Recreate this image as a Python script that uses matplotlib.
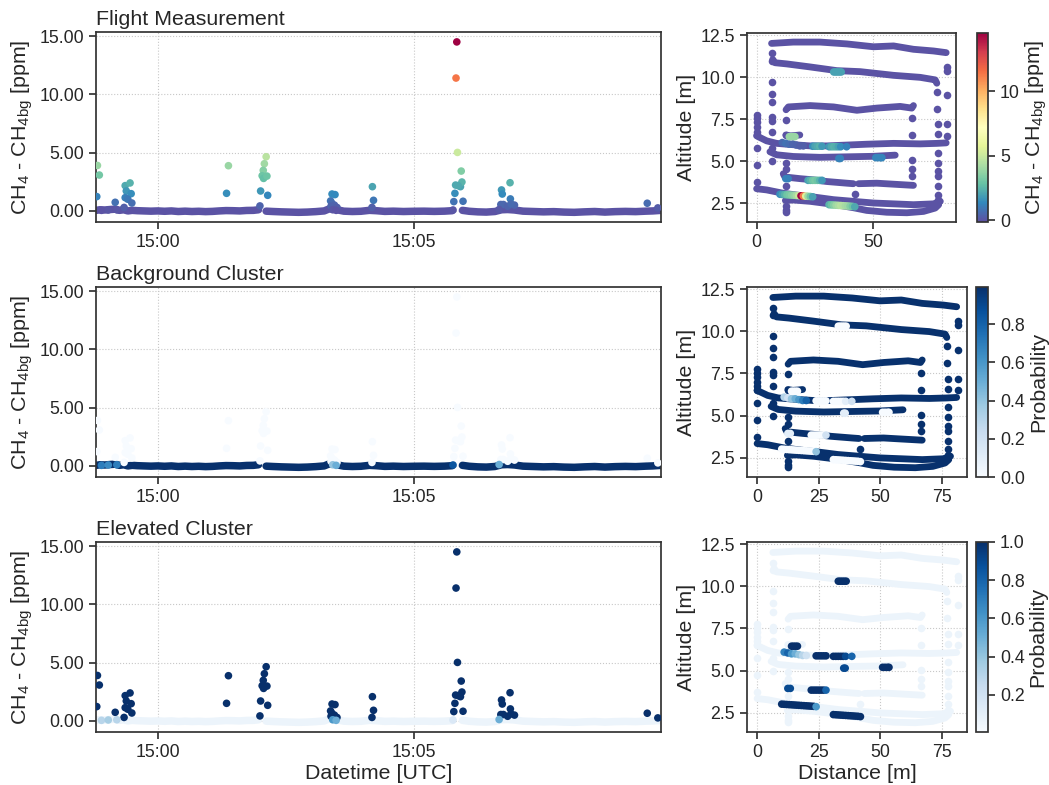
import numpy as np
import matplotlib
matplotlib.use("Agg")
import matplotlib.pyplot as plt
import matplotlib.dates as mdates
from matplotlib.colors import Normalize
from matplotlib.cm import ScalarMappable
from matplotlib.ticker import FormatStrFormatter, FixedLocator
import datetime as dt

plt.rcParams['font.family'] = ['Liberation Sans', 'DejaVu Sans']
plt.rcParams['mathtext.fontset'] = 'custom'
plt.rcParams['mathtext.rm'] = 'Liberation Sans'
plt.rcParams['mathtext.it'] = 'Liberation Sans:italic'
plt.rcParams['mathtext.default'] = 'regular'
TXT = '#262626'
SP = '#333333'
plt.rcParams['text.color'] = TXT
plt.rcParams['axes.labelcolor'] = TXT
plt.rcParams['xtick.color'] = SP
plt.rcParams['ytick.color'] = SP
plt.rcParams['xtick.labelcolor'] = TXT
plt.rcParams['ytick.labelcolor'] = TXT

# ---------------- time-series data (seconds after 15:00:00 UTC) ----------------
base_t = [-72, -68, -62, -56, -50, -45, -40, -35, -30, -24,
          -16, -8, 0, 8, 16, 24, 32, 40, 48, 56,
          64, 72, 80, 88, 96, 104, 112, 118, np.nan, 127,
          135, 145, 155, 165, 175, 185, 195, 200, 205, 210,
          218, 228, 238, 248, 256, 266, 276, 288, 300, 312,
          324, 336, 345, np.nan, 357, 365, 375, 385, 395, 403,
          410, 418, 428, 440, 452, 464, 476, 488, 500, 512,
          524, 536, 548, 560, 572, 580, 590]
base_ch4 = [0.05, 0.10, 0.08, 0.12, 0.15, 0.05, 0.10, 0.00, 0.05, 0.02,
            0.00, -0.02, 0.00, -0.03, 0.00, -0.05, -0.02, -0.05, -0.03, -0.06,
            -0.04, 0.00, 0.03, 0.02, 0.00, 0.04, 0.05, 0.10, np.nan, -0.02,
            -0.05, -0.08, -0.10, -0.12, -0.10, -0.06, 0.00, 0.15, 0.20, 0.10,
            -0.02, -0.05, -0.03, 0.05, 0.02, -0.04, -0.02, -0.05, -0.03, -0.02,
            -0.04, -0.02, 0.02, np.nan, 0.05, -0.03, -0.08, -0.10, -0.05, 0.10,
            0.12, 0.08, -0.02, -0.05, -0.08, -0.06, -0.10, -0.12, -0.08, -0.05,
            -0.10, -0.06, -0.04, -0.06, -0.02, 0.00, 0.05]
base_p_bg = 0.99   # background-cluster probability of baseline samples
base_p_el = 0.06   # elevated-cluster probability of baseline samples

spike_t = [-70.7, -68.5, -71.5, -49.9,
           -38.2, -32.5, -36.9, -31.2, -38.2, -35.1, -30.4, -39.5,
           82.8, 80.6,
           127.0, 124.9, 123.6, 122.3, 124.0, 127.9, 120.5, 128.8, 119.7,
           204.2, 207.7, 202.5, 204.0, 207.0, 203.0, 210.0,
           251.5, 252.8, 251.0,
           350.4, 349.5, 351.2, 355.6, 349.0, 354.7, 356.4, 352.0, 348.2, 346.9, 357.7,
           412.8, 402.8, 403.7, 413.2, 402.0, 405.0, 418.0, 410.0, 414.0,
           573.6, 586.0,
           -66, -58, -48, 205, 209, 400, 346]
spike_ch4 = [3.9, 3.08, 1.23, 0.74,
             2.17, 2.4, 1.71, 1.48, 1.14, 1.0, 0.68, 0.3,
             3.88, 1.51,
             4.65, 4.05, 3.48, 3.02, 2.79, 2.99, 1.71, 1.34, 0.43,
             1.45, 1.4, 0.86, 0.66, 0.5, 0.4, 0.3,
             2.08, 0.91, 0.3,
             14.5, 11.4, 5.02, 3.42, 2.22, 2.08, 2.48, 2.17, 1.51, 0.8, 0.83,
             2.42, 1.8, 1.45, 1.03, 0.55, 0.55, 0.5, 0.4, 0.6,
             0.66, 0.26,
             0.05, 0.08, 0.1, 0.1, 0.05, 0.12, 0.08]
spike_p_el = [1.0] * 55 + [0.3, 0.35, 0.3, 0.6, 0.5, 0.5, 0.15]

# ---------------- flight-path data (distance [m], altitude [m]) ----------------
trkA_d = [6.4, 15.7, 27.1, 38.6, 50.0, 58.6, 67.1, 75.7, 81.1]
trkA_a = [12.0, 12.08, 12.08, 11.97, 11.8, 11.85, 11.65, 11.55, 11.45]
trkB_d = [6.9, 7.9, 12.9, 22.9, 34.3, 44.3, 58.6, 70.0, 76.4, 77.1]
trkB_a = [11.05, 10.85, 10.78, 10.6, 10.38, 10.32, 10.1, 9.98, 9.83, 9.63]
trkC_d = [12.6, 13.6, 22.9, 32.9, 42.9, 51.4, 61.4, 66.4, 67.1]
trkC_a = [8.05, 8.22, 8.3, 8.22, 8.02, 8.15, 8.25, 8.15, 8.3]
trkD_d = [0.0, 1.4, 4.3, 8.6, 15.7, 22.9, 30.0, 38.6, 47.1, 58.6, 70.0, 77.1, 81.1]
trkD_a = [6.5, 6.4, 6.2, 6.05, 5.97, 5.9, 5.9, 5.95, 6.0, 6.05, 6.02, 6.05, 6.08]
trkE_d = [5.7, 8.6, 15.7, 27.1, 38.6, 50.0, 59.3]
trkE_a = [5.55, 5.37, 5.27, 5.22, 5.25, 5.28, 5.35]
trkF_d = [11.4, 12.1, 18.6, 24.3, 30.0, 38.6, 41.4, np.nan, 43.6, 51.4, 58.6, 67.1]
trkF_a = [4.24, 4.05, 3.95, 3.88, 3.78, 3.68, 3.65, np.nan, 3.65, 3.68, 3.62, 3.55]
trkG_d = [0.0, 4.3, 11.4, 18.6, 24.3, 32.9, 41.4, 50.0, 58.6, 67.1, 75.7, 78.6]
trkG_a = [3.35, 3.28, 3.08, 2.95, 2.86, 2.7, 2.6, 2.5, 2.45, 2.4, 2.45, 2.6]
trkH_d = [12.3, 15.7, 22.9, 32.9, 41.4, 47.1, 55.7, 64.3, 71.4, 76.4, 77.9]
trkH_a = [2.65, 2.68, 2.6, 2.42, 2.22, 2.06, 1.95, 1.92, 2.0, 2.2, 2.4]
trkS_d = [12.5, 14.5, 16.5, 18.5]
trkS_a = [6.55, 6.5, 6.52, 6.55]

conn_d = [0, 0, 0, 0, 0, 0, 0, 0, 0,
          6.4, 6.4, 6.5, 6.5, 6.5, 6.5, 6.5, 6.5, 6.6, 6.6,
          12.4, 12.4, 12.4, 12.4, 12.4, 12.4, 12.4, 12.4,
          66.5, 66.5, 66.5, 66.5, 66.5,
          77.3, 77.3, 77.5, 77.5, 77.5, 77.5, 77.5, 77.5, 77.5, 77.5, 77.5,
          81.5, 81.5, 81.5, 81.5, 81.5,
          42.0]
conn_a = [7.75, 7.55, 7.3, 7.0, 6.75, 6.55, 5.75, 4.75, 3.75,
          11.4, 10.95, 9.7, 9.0, 8.5, 7.6, 7.4, 6.75, 5.75, 5.0,
          7.45, 6.55, 4.9, 4.5, 3.5, 2.3, 2.1, 1.95,
          7.55, 6.55, 5.05, 4.5, 4.1,
          9.1, 8.1, 7.2, 6.6, 5.5, 4.9, 4.4, 4.1, 3.5, 3.0, 2.7,
          10.6, 10.35, 8.9, 7.2, 6.5,
          3.05]

# samples of the elevated plume along the path
el_d = [10, 11, 12, 13, 14, 15, 16, 17, 18, 19, 20, 21, 22, 23, 24,
        31, 32, 33, 34, 35, 36, 37, 38, 39, 40, 41, 42,
        33.0, 33.8, 34.6, 35.4, 36.2,
        14.0, 14.8, 15.6, 16.4,
        11, 12.5, 14, 15.5, 17, 18.5, 20,
        24, 25, 26, 27, 28,
        31, 32, 33, 34, 35, 36, 38.5,
        35.2, 35.8,
        51, 52, 53, 53.6,
        12.5, 13.5,
        22, 23, 24, 25, 26, 27, 28]
el_a = [3.02, 3.01, 3.0, 2.99, 2.98, 2.97, 2.96, 2.95, 2.94, 2.93, 2.92, 2.91, 2.9, 2.89, 2.87,
        2.4, 2.39, 2.38, 2.37, 2.36, 2.35, 2.34, 2.33, 2.32, 2.31, 2.3, 2.28,
        10.3, 10.3, 10.3, 10.3, 10.3,
        6.45, 6.45, 6.45, 6.45,
        6.1, 6.05, 6.0, 6.0, 5.95, 5.9, 5.9,
        5.88, 5.88, 5.88, 5.88, 5.88,
        5.85, 5.85, 5.85, 5.85, 5.85, 5.85, 5.85,
        5.15, 5.15,
        5.2, 5.2, 5.2, 5.2,
        3.95, 3.95,
        3.85, 3.85, 3.85, 3.85, 3.85, 3.85, 3.85]
el_ch4 = [1.5, 2.0, 2.5, 3.0, 3.2, 3.5, 3.8, 4.2, 5.0, 14.5, 11.4, 5.5, 4.0, 3.0, 2.0,
          2.5, 3.0, 3.5, 4.0, 4.3, 4.6, 4.5, 4.2, 4.0, 3.5, 3.0, 2.2,
          2.0, 2.0, 2.0, 2.0, 2.0,
          3.9, 3.9, 3.9, 3.9,
          0.6, 0.8, 0.7, 0.5, 0.4, 0.3, 0.3,
          1.5, 2.0, 2.2, 2.4, 1.8,
          1.8, 2.2, 2.4, 2.3, 2.0, 1.5, 1.2,
          1.2, 1.2,
          1.3, 1.3, 1.3, 1.3,
          1.2, 1.2,
          2.0, 2.5, 3.0, 3.2, 3.0, 2.5, 1.8]
el_p_el = [1.0] * 14 + [0.6] + \
          [1.0] * 12 + \
          [1.0] * 5 + \
          [1.0] * 4 + \
          [0.7, 0.8, 0.6, 0.5, 0.4, 0.3, 0.2] + \
          [1.0] * 5 + \
          [1.0, 1.0, 1.0, 1.0, 1.0, 0.9, 0.8] + \
          [0.9, 0.9] + \
          [1.0] * 4 + \
          [0.9, 0.9] + \
          [1.0] * 6 + [0.8]

# ---------------- figure ----------------
W, H = 1049, 785
fig = plt.figure(figsize=(W / 100, H / 100), dpi=100)


def rect(x0, y0, x1, y1):
    return [x0 / W, 1 - y1 / H, (x1 - x0) / W, (y1 - y0) / H]


rows_y = [(32, 222), (287, 477), (542, 732)]
right_x = [(747, 956), (747, 967), (747, 967)]
cbar_x = [(977, 988), (976, 988), (976, 988)]

t_ref = mdates.date2num(dt.datetime(2023, 1, 1, 15, 0, 0))
to_num = lambda s: t_ref + np.asarray(s, dtype=float) / 86400.0
bx = to_num(base_t)
sx = to_num(spike_t)
spike_p_bg = [1.0 - p for p in spike_p_el]
el_p_bg = [1.0 - p for p in el_p_el]

tracks = [(trkA_d, trkA_a), (trkB_d, trkB_a), (trkC_d, trkC_a), (trkD_d, trkD_a),
          (trkE_d, trkE_a), (trkF_d, trkF_a), (trkG_d, trkG_a), (trkH_d, trkH_a),
          (trkS_d, trkS_a)]

cmaps = [plt.get_cmap('Spectral_r'), plt.get_cmap('Blues'), plt.get_cmap('Blues')]
norms = [Normalize(-0.12, 14.5), Normalize(0.0, 0.995), Normalize(0.005, 1.0)]
base_vals = [0.0, base_p_bg, base_p_el]
spike_vals = [spike_ch4, spike_p_bg, spike_p_el]
el_vals = [el_ch4, el_p_bg, el_p_el]
conn_vals = [0.0, base_p_bg, base_p_el]
titles = ['Flight Measurement', 'Background Cluster', 'Elevated Cluster']
cb_labels = ['CH$_4$ - CH$_{4bg}$ [ppm]', 'Probability', 'Probability']
cb_ticks = [[0, 5, 10], [0.0, 0.2, 0.4, 0.6, 0.8], [0.2, 0.4, 0.6, 0.8, 1.0]]
cb_fmt = ['%d', '%.1f', '%.1f']
ylab = 'CH$_4$ - CH$_{4bg}$ [ppm]'

TICK_FS = 12.8
LAB_FS = 15.4
TITLE_FS = 15.4
S = 30
LW = 4.9


def style(ax):
    for sp in ax.spines.values():
        sp.set_color(SP)
        sp.set_linewidth(1.25)
    ax.tick_params(direction='out', length=5, width=1.25, labelsize=TICK_FS)
    ax.grid(True, ls=':', color='#c8c8c8', lw=0.8)
    ax.set_axisbelow(True)


for i in range(3):
    y0, y1 = rows_y[i]
    cmap, norm = cmaps[i], norms[i]

    # ---- time series ----
    ax = fig.add_axes(rect(96, y0, 661, y1))
    style(ax)
    ax.plot(bx, base_ch4, color=cmap(norm(base_vals[i])), lw=LW + 0.5,
            solid_capstyle='round', zorder=2)
    ax.scatter(sx, spike_ch4, c=spike_vals[i], cmap=cmap, norm=norm, s=S,
               linewidths=0, zorder=3)
    ax.set_xlim(to_num(-72.4), to_num(589.7))
    ax.set_ylim(-0.95, 15.35)
    ax.yaxis.set_major_locator(FixedLocator([0, 5, 10, 15]))
    ax.yaxis.set_major_formatter(FormatStrFormatter('%.2f'))
    ax.xaxis.set_major_locator(mdates.MinuteLocator(byminute=[0, 5]))
    ax.xaxis.set_major_formatter(mdates.DateFormatter('%H:%M'))
    ax.set_ylabel(ylab, fontsize=LAB_FS, labelpad=3)
    ax.set_title(titles[i], loc='left', fontsize=TITLE_FS, pad=5, color=TXT)
    if i == 2:
        ax.set_xlabel('Datetime [UTC]', fontsize=LAB_FS, labelpad=2)

    # ---- flight path ----
    xa, xb = right_x[i]
    axr = fig.add_axes(rect(xa, y0 + (1 if i == 0 else 0), xb, y1))
    style(axr)
    for d, a in tracks:
        axr.plot(d, a, color=cmap(norm(base_vals[i])), lw=LW,
                 solid_capstyle='round', zorder=2)
    axr.scatter(conn_d, conn_a, color=cmap(norm(conn_vals[i])), s=S,
                linewidths=0, zorder=2)
    axr.scatter(el_d, el_a, c=el_vals[i], cmap=cmap, norm=norm, s=S,
                linewidths=0, zorder=3)
    axr.set_xlim(-4.1, 85.3)
    axr.set_ylim(1.37, 12.62)
    axr.yaxis.set_major_locator(FixedLocator([2.5, 5.0, 7.5, 10.0, 12.5]))
    axr.yaxis.set_major_formatter(FormatStrFormatter('%.1f'))
    if i == 0:
        axr.xaxis.set_major_locator(FixedLocator([0, 50]))
    else:
        axr.xaxis.set_major_locator(FixedLocator([0, 25, 50, 75]))
    axr.set_ylabel('Altitude [m]', fontsize=LAB_FS, labelpad=3)
    if i == 2:
        axr.set_xlabel('Distance [m]', fontsize=LAB_FS, labelpad=2)

    # ---- colorbar ----
    ca, cb_ = cbar_x[i]
    cax = fig.add_axes(rect(ca, y0 + (1 if i == 0 else 0), cb_, y1))
    sm = ScalarMappable(norm=norm, cmap=cmap)
    cb = fig.colorbar(sm, cax=cax, ticks=cb_ticks[i], format=cb_fmt[i])
    cb.outline.set_edgecolor(SP)
    cb.outline.set_linewidth(1.25)
    cax.tick_params(direction='out', length=5, width=1.25, labelsize=TICK_FS,
                    color=SP)
    cb.set_label(cb_labels[i], fontsize=LAB_FS, labelpad=3)

fig.savefig('out.png', dpi=100)
